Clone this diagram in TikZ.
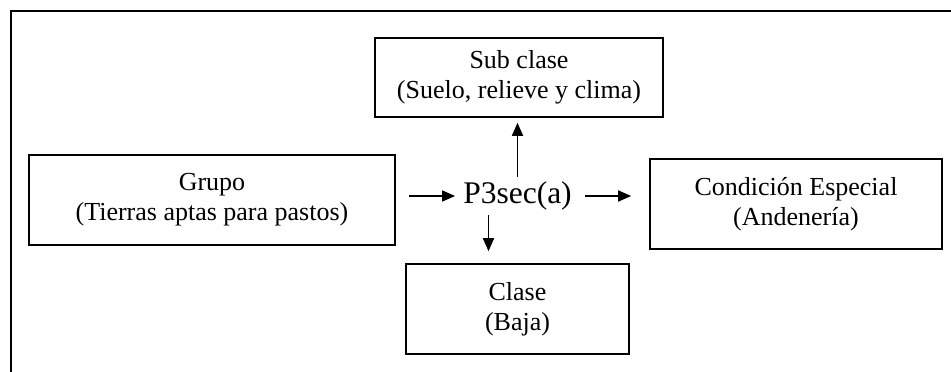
\documentclass[tikz,border=0pt]{standalone}
\usepackage{fontspec}
\setmainfont{Liberation Serif}
\usetikzlibrary{arrows.meta}
\begin{document}
\begin{tikzpicture}[x=1pt,y=-1pt,
  box/.style={draw, line width=1.6pt, align=center,
    font=\fontsize{26}{30}\selectfont, inner sep=0pt},
  arr/.style={-{Triangle[length=13pt,width=11pt]}, line width=1.6pt}]
\useasboundingbox (0,0) rectangle (951,372);
% open frame: top and left edges only
\draw[line width=1.8pt] (11,372) -- (11,11) -- (951,11);

\node[box, minimum width=288pt, minimum height=79pt] (sub) at (519,77.5)
  {Sub clase\\(Suelo, relieve y clima)};
\node[box, minimum width=366pt, minimum height=90pt] (grupo) at (212,200)
  {Grupo\\(Tierras aptas para pastos)};
\node[box, minimum width=223pt, minimum height=90pt] (clase) at (517.5,309)
  {Clase\\(Baja)};
\node[box, minimum width=292pt, minimum height=90pt] (cond) at (796,204)
  {Condición Especial\\(Andenería)};
\node[font=\fontsize{31.5}{36}\selectfont, inner xsep=8pt, inner ysep=5pt]
  (p) at (517.5,196) {P3sec(a)};

\draw[arr, shorten <=13pt] (grupo.east |- p.west) -- (p.west);
\draw[arr, shorten <=5pt, shorten >=18pt] (p.east) -- (cond.west |- p.east);
\draw[arr, shorten >=5pt] (p.north) -- (p.north |- sub.south);
\draw[arr, shorten >=12pt] ([xshift=-29pt]p.south) -- ([xshift=-29pt]p.south |- clase.north);
\end{tikzpicture}
\end{document}
